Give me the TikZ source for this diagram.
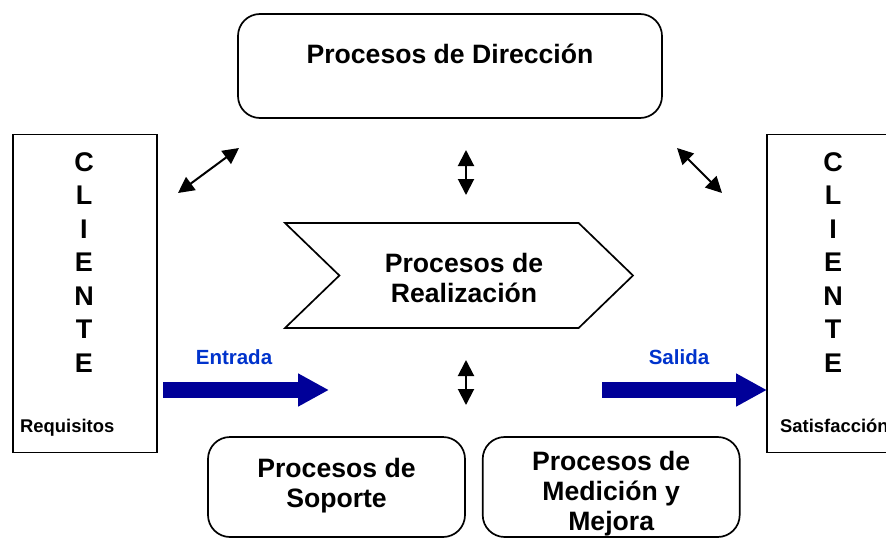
\documentclass[tikz,border=0pt]{standalone}
\usepackage{fontspec}
\setmainfont{Liberation Sans}
\usepackage{tikz}
\usetikzlibrary{positioning,shapes,arrows.meta}
\definecolor{navy}{RGB}{0,0,153}
\definecolor{labelblue}{RGB}{0,51,204}
\tikzstyle{box} = [draw, line width=1.7pt, rounded corners=22pt, inner sep=0pt]
\tikzstyle{client} = [draw, line width=1.7pt, inner sep=0pt]
\tikzstyle{txt} = [inner sep=0pt, font=\txtbig]
\tikzstyle{line} = [draw, line width=2pt, {Triangle[length=16pt,width=16pt]}-{Triangle[length=16pt,width=16pt]}]
\tikzstyle{flow} = [draw=navy, line width=16pt, -{Triangle[length=31pt,width=31pt]}]
\newcommand{\txtbig}{\fontsize{26.6}{30}\selectfont\bfseries}
\newcommand{\txtcli}{\fontsize{27}{33.5}\selectfont\bfseries}
\newcommand{\txtmid}{\fontsize{20.5}{24}\selectfont\bfseries}
\newcommand{\txtsmall}{\fontsize{18.4}{20}\selectfont\bfseries}

\begin{document}
\begin{tikzpicture}[x=1pt, y=-1pt, align=center]
\useasboundingbox (0,0) rectangle (886,538);

\node (nodedir) [box, minimum width=424pt, minimum height=104pt] at (450,66) {};
\node (nodedirtxt) [txt, anchor=base] at (450,63) {Procesos de Dirección};

\node (nodechev) [draw, line width=1.7pt, signal, signal from=west, signal to=east, signal pointer angle=88, minimum width=348pt, minimum height=105pt, inner sep=0pt] at (459,275.5) {};
\node (noderealtxt) [txt, anchor=north] at (464,253) {Procesos de\\Realización};

\node (nodecli1) [client, minimum width=144pt, minimum height=318pt] at (85,293.5) {};
\node (nodecli1txt) [inner sep=0pt, anchor=north, font=\txtcli] at (84,152) {C\\L\\I\\E\\N\\T\\E};
\node (nodereq) [inner sep=0pt, anchor=base west, font=\txtsmall] at (20,432) {Requisitos};

\node (nodecli2) [client, minimum width=144pt, minimum height=318pt] at (839,293.5) {};
\node (nodecli2txt) [inner sep=0pt, anchor=north, font=\txtcli] at (833,152) {C\\L\\I\\E\\N\\T\\E};
\node (nodesat) [inner sep=0pt, anchor=base west, font=\txtsmall] at (780,432) {Satisfacción};

\node (nodesop) [box, minimum width=257pt, minimum height=100pt] at (336.5,487) {};
\node (nodesoptxt) [txt, anchor=north] at (336.5,458) {Procesos de\\Soporte};

\node (nodemed) [box, minimum width=257pt, minimum height=100pt, right=16pt of nodesop] {};
\node (nodemedtxt) [txt, anchor=north] at (nodemed.center |- 0,451) {Procesos de\\Medición y\\Mejora};

% double arrows
\coordinate (l0) at (178,193);
\coordinate (l1) at (239,148);
\path [line] (l0) -- (l1);
\coordinate (r0) at (677,148);
\coordinate (r1) at (722,193);
\path [line] (r0) -- (r1);
\coordinate (t0) at (466,150);
\coordinate (t1) at (466,195);
\path [line] (t0) -- (t1);
\coordinate (b0) at (466,360);
\coordinate (b1) at (466,405);
\path [line] (b0) -- (b1);

% entrada / salida
\coordinate (in0) at (163,390);
\coordinate (in1) at (329,390);
\path [flow] (in0) -- (in1);
\node (nodein) [inner sep=0pt, anchor=base, font=\txtmid, text=labelblue] at (234,364) {Entrada};

\coordinate (out0) at (602,390);
\coordinate (out1) at (767,390);
\path [flow] (out0) -- (out1);
\node (nodeout) [inner sep=0pt, anchor=base, font=\txtmid, text=labelblue] at (679,364) {Salida};

\end{tikzpicture}
\end{document}
